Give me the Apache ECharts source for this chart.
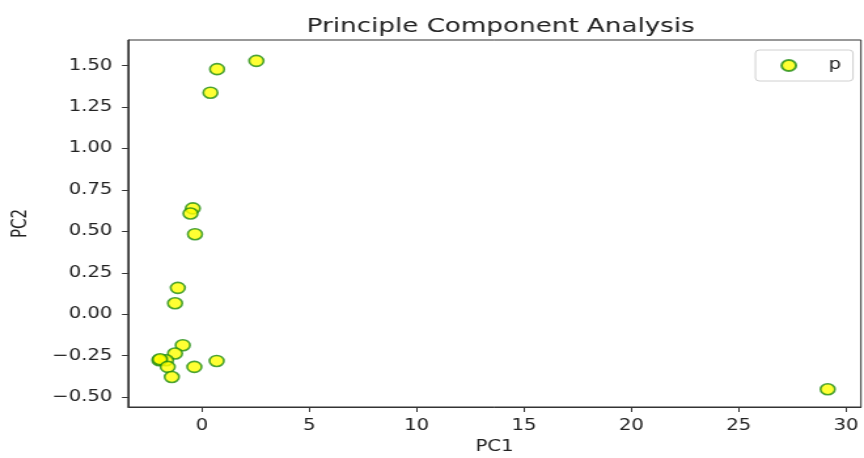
<!DOCTYPE html>
<html>
<head>
<meta charset="utf-8">
<script src="https://cdn.jsdelivr.net/npm/echarts@6/dist/echarts.min.js"></script>
<style>
html,body{margin:0;padding:0;background:#fff;overflow:hidden;width:864px;height:458px;}
#c{width:660px;height:458px;transform:scaleX(1.30909);transform-origin:0 0;}
</style>
</head>
<body>
<div id="c"></div>
<script>
const pc1 = [2.53, 0.70, 0.39, -0.43, -0.54, -0.33, -1.13, -1.26, -0.90, -1.26, 0.68, -0.36, -1.68, -1.99, -1.96, -1.60, -1.41, 29.15];
const pc2 = [1.529, 1.479, 1.337, 0.639, 0.608, 0.483, 0.159, 0.066, -0.187, -0.237, -0.282, -0.318, -0.278, -0.278, -0.272, -0.318, -0.379, -0.453];
const xTicks = [0, 5, 10, 15, 20, 25, 30];
const yTicks = [-0.5, -0.25, 0, 0.25, 0.5, 0.75, 1.0, 1.25, 1.5];
const seriesName = 'p';

const points = pc1.map((v, i) => [v, pc2[i]]);
const font = 'DejaVu Sans';
const chart = echarts.init(document.getElementById('c'), null, {renderer: 'canvas', width: 660, height: 458});
chart.setOption({
  animation: false,
  backgroundColor: '#fff',
  title: {
    text: 'Principle Component Analysis',
    left: 377.5, top: 12, textAlign: 'center',
    textStyle: {fontFamily: font, fontSize: 20, fontWeight: 'normal', color: '#222'}
  },
  legend: {
    right: 8.4, top: 50,
    data: [seriesName],
    icon: 'circle',
    itemWidth: 11, itemHeight: 11,
    textStyle: {fontFamily: font, fontSize: 15, color: '#222', padding: [0, 0, 0, 20]},
    borderColor: '#d0d0d0', borderWidth: 1, borderRadius: 3,
    padding: [8, 9, 8, 19],
    itemGap: 0
  },
  grid: {
    left: 97.8, right: 2.3, top: 40, bottom: 51,
    outerBoundsMode: 'none',
    containLabel: false,
    show: true, borderColor: '#333', borderWidth: 1
  },
  xAxis: {
    type: 'value', min: -3.45, max: 30.7,
    name: 'PC1', nameLocation: 'middle', nameGap: 33,
    nameTextStyle: {fontFamily: font, fontSize: 15, color: '#222'},
    splitLine: {show: false},
    axisLine: {show: true, onZero: false, lineStyle: {color: '#333'}},
    axisTick: {show: true, length: 5, customValues: xTicks, lineStyle: {color: '#333'}},
    axisLabel: {customValues: xTicks, margin: 12, fontFamily: font, fontSize: 15, color: '#222'}
  },
  yAxis: {
    type: 'value', min: -0.56, max: 1.655,
    name: 'PC2', nameLocation: 'middle', nameGap: 74, nameRotate: 90,
    nameTextStyle: {fontFamily: font, fontSize: 15, color: '#222'},
    splitLine: {show: false},
    axisLine: {show: true, onZero: false, lineStyle: {color: '#333'}},
    axisTick: {show: true, length: 4.6, customValues: yTicks, lineStyle: {color: '#333'}},
    axisLabel: {
      customValues: yTicks, margin: 12, fontFamily: font, fontSize: 15, color: '#222',
      formatter: v => v.toFixed(2).replace('-', '\u2212')
    }
  },
  series: [{
    name: seriesName,
    type: 'scatter',
    data: points,
    symbol: 'circle',
    symbolSize: 11,
    itemStyle: {color: '#ffff00', borderColor: '#1f8c14', borderWidth: 1.6}
  }]
});
</script>
</body>
</html>
